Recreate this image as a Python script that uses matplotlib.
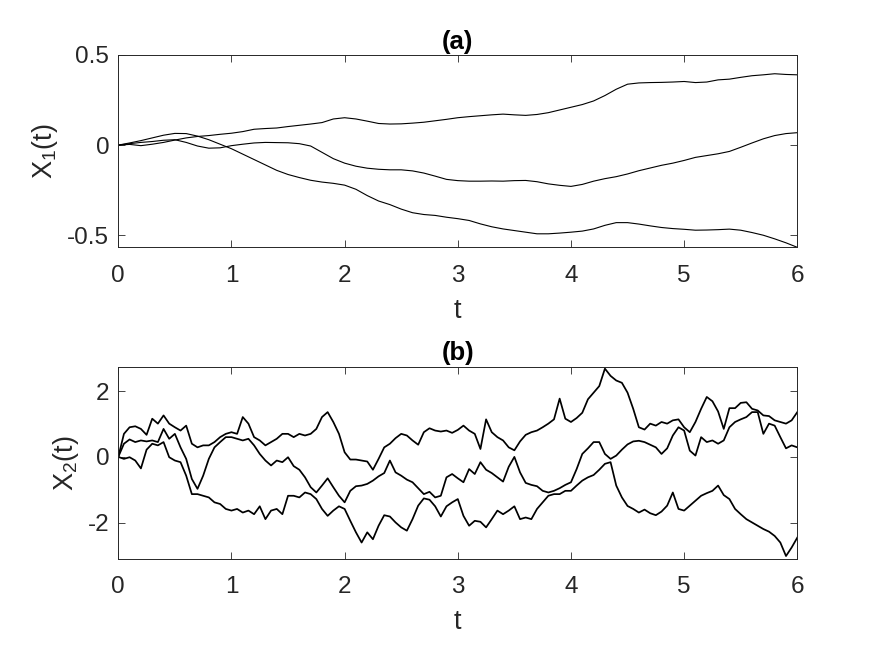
import numpy as np
import matplotlib
matplotlib.use("Agg")
import matplotlib.pyplot as plt

plt.rcParams['font.family'] = ['Liberation Sans', 'DejaVu Sans']
plt.rcParams['axes.unicode_minus'] = False
plt.rcParams['mathtext.fontset'] = 'custom'
plt.rcParams['mathtext.rm'] = 'Liberation Sans'
plt.rcParams['mathtext.default'] = 'regular'

# ---------------- panel (a): X1(t), sampled every 0.1 ----------------
t_a = np.linspace(0, 6, 61)
x1_path1 = [0, .004, -.003, .005, .015, .028, .04, .048, .053, .06, .066,
            .075, .088, .092, .095, .103, .11, .117, .125, .145, .152,
            .145, .133, .12, .117, .118, .122, .127, .135, .143, .152,
            .158, .163, .168, .172, .168, .165, .17, .18, .195, .21,
            .225, .245, .275, .31, .338, .345, .347, .348, .35, .353,
            .347, .35, .362, .366, .376, .385, .39, .396, .392, .39]
x1_path2 = [0, .012, .025, .04, .055, .065, .064, .05, .03, .005, -.02,
            -.05, -.08, -.11, -.14, -.163, -.18, -.195, -.205, -.212, -.222,
            -.245, -.28, -.31, -.33, -.355, -.375, -.385, -.39, -.4, -.408,
            -.418, -.437, -.453, -.465, -.474, -.483, -.492, -.492, -.488, -.483,
            -.477, -.465, -.445, -.43, -.43, -.438, -.448, -.457, -.463, -.467,
            -.472, -.471, -.469, -.466, -.472, -.485, -.5, -.52, -.542, -.567]
x1_path3 = [0, .008, .015, .02, .027, .03, .015, -.005, -.017, -.015, -.003,
            .005, .012, .015, .014, .013, .008, -.005, -.04, -.075, -.1,
            -.117, -.128, -.134, -.137, -.137, -.143, -.155, -.172, -.19, -.197,
            -.2, -.2, -.199, -.2, -.197, -.196, -.203, -.215, -.223, -.229,
            -.218, -.2, -.186, -.175, -.16, -.142, -.127, -.112, -.1, -.085,
            -.068, -.058, -.048, -.035, -.012, .012, .035, .053, .064, .069]

# ---------------- panel (b): X2(t), sampled every 0.05 ----------------
t_b = np.linspace(0, 6, 121)
x2_path1 = [0.00, 0.70, 0.90, 0.93, 0.85, 0.67, 1.16, 1.01, 1.26, 1.01,
            0.90, 0.80, 0.95, 0.40, 0.29, 0.35, 0.35, 0.45, 0.60, 0.70,
            0.75, 0.70, 1.21, 1.01, 0.60, 0.50, 0.35, 0.45, 0.55, 0.70,
            0.70, 0.60, 0.70, 0.65, 0.70, 0.85, 1.21, 1.36, 1.06, 0.70,
            0.14, -0.08, -0.08, -0.11, -0.14, -0.39, -0.06, 0.29, 0.40, 0.57,
            0.70, 0.65, 0.50, 0.37, 0.75, 0.87, 0.80, 0.77, 0.80, 0.73,
            0.82, 0.95, 0.80, 0.70, 0.24, 1.14, 0.75, 0.60, 0.50, 0.29,
            0.20, 0.47, 0.67, 0.75, 0.80, 0.90, 1.01, 1.14, 1.77, 1.16,
            1.06, 1.18, 1.34, 1.75, 1.95, 2.15, 2.68, 2.46, 2.32, 2.25,
            1.95, 1.46, 0.90, 0.83, 1.01, 0.95, 1.06, 1.01, 1.11, 1.14,
            0.90, 0.75, 1.06, 1.46, 1.82, 1.69, 1.38, 0.85, 1.48, 1.48,
            1.64, 1.66, 1.46, 1.41, 1.26, 1.24, 1.11, 1.06, 1.01, 1.11,
            1.36]
x2_path2 = [0.00, 0.40, 0.53, 0.45, 0.50, 0.47, 0.50, 0.45, 0.85, 0.55,
            0.70, 0.29, -0.06, -0.67, -0.97, -0.57, -0.06, 0.29, 0.45, 0.60,
            0.60, 0.55, 0.50, 0.55, 0.35, 0.09, -0.11, -0.26, -0.11, -0.16,
            -0.01, -0.28, -0.39, -0.62, -0.92, -1.08, -0.87, -0.65, -0.92, -1.18,
            -1.38, -1.03, -0.89, -0.87, -0.82, -0.72, -0.59, -0.49, -0.11, -0.47,
            -0.57, -0.69, -0.77, -0.95, -1.13, -1.06, -1.23, -1.18, -0.62, -0.52,
            -0.65, -0.77, -0.37, -0.52, -0.16, -0.39, -0.49, -0.62, -0.75, -0.30,
            0.00, -0.47, -0.79, -0.85, -0.89, -1.03, -1.08, -1.03, -0.95, -0.85,
            -0.77, -0.37, 0.09, 0.26, 0.45, 0.45, 0.09, -0.06, 0.04, 0.22,
            0.38, 0.47, 0.49, 0.45, 0.37, 0.29, 0.09, 0.26, 0.65, 0.90,
            0.80, 0.19, 0.04, 0.60, 0.45, 0.50, 0.40, 0.50, 0.90, 1.06,
            1.14, 1.21, 1.36, 1.36, 0.70, 1.01, 0.95, 0.60, 0.26, 0.35,
            0.29]
x2_path3 = [0.00, -0.06, -0.01, -0.11, -0.35, 0.22, 0.40, 0.35, 0.45, -0.01,
            -0.11, -0.16, -0.57, -1.13, -1.13, -1.18, -1.23, -1.38, -1.43, -1.58,
            -1.63, -1.58, -1.69, -1.63, -1.74, -1.50, -1.89, -1.63, -1.58, -1.74,
            -1.18, -1.18, -1.23, -1.08, -1.13, -1.28, -1.58, -1.79, -1.63, -1.50,
            -1.58, -1.94, -2.29, -2.60, -2.29, -2.50, -2.09, -1.77, -1.81, -1.99,
            -2.14, -2.24, -1.89, -1.48, -1.26, -1.30, -1.50, -1.81, -1.50, -1.38,
            -1.28, -1.79, -2.09, -1.94, -1.97, -2.14, -1.89, -1.63, -1.74, -1.63,
            -1.50, -1.89, -1.84, -1.89, -1.58, -1.38, -1.18, -1.13, -1.13, -1.03,
            -1.03, -0.87, -0.72, -0.62, -0.55, -0.39, -0.21, -0.16, -0.87, -1.23,
            -1.49, -1.58, -1.69, -1.60, -1.71, -1.77, -1.66, -1.48, -1.08, -1.58,
            -1.63, -1.48, -1.33, -1.18, -1.10, -1.03, -0.87, -1.16, -1.28, -1.58,
            -1.74, -1.89, -1.99, -2.09, -2.19, -2.27, -2.40, -2.60, -3.01, -2.75,
            -2.45]

x_ticks = [0, 1, 2, 3, 4, 5, 6]
a_yticks = [-0.5, 0, 0.5]
a_yticklabels = ['-0.5', '0', '0.5']
b_yticks = [-2, 0, 2]
b_yticklabels = ['-2', '0', '2']

edge = '#262626'
fig = plt.figure(figsize=(8.86, 6.5), dpi=100)
fig.patch.set_facecolor('white')
ax1 = fig.add_axes([0.1335, 0.6195, 0.7664, 0.2959])
ax2 = fig.add_axes([0.1335, 0.1400, 0.7664, 0.2954])

for y in (x1_path1, x1_path2, x1_path3):
    ax1.plot(t_a, y, color='black', lw=0.8)
for y in (x2_path1, x2_path2, x2_path3):
    ax2.plot(t_b, y, color='black', lw=1.25)

ax1.set_ylim(-0.567, 0.5)
ax1.set_yticks(a_yticks)
ax1.set_yticklabels(a_yticklabels)
ax2.set_ylim(-3.1, 2.73)
ax2.set_yticks(b_yticks)
ax2.set_yticklabels(b_yticklabels)

ax1.set_title('(a)', fontsize=18.5, fontweight='bold', pad=4.5, color='black')
ax2.set_title('(b)', fontsize=18.5, fontweight='bold', pad=5, color='black')
ax1.set_ylabel('X$_1$(t)', fontsize=19.5, color=edge, labelpad=5)
ax2.set_ylabel('X$_2$(t)', fontsize=19.5, color=edge, labelpad=5)

for ax in (ax1, ax2):
    ax.set_xlim(0, 6)
    ax.set_xticks(x_ticks)
    ax.tick_params(direction='in', top=True, right=True, length=4.8,
                   width=0.6, color=edge, labelcolor=edge, labelsize=17.5)
    ax.tick_params(axis='x', pad=12.5)
    ax.tick_params(axis='y', pad=6.5)
    for s in ax.spines.values():
        s.set_color(edge)
        s.set_linewidth(0.7)
    ax.set_xlabel('t', fontsize=19.5, color=edge, labelpad=8)

fig.savefig('out.png', dpi=100, facecolor='white')
